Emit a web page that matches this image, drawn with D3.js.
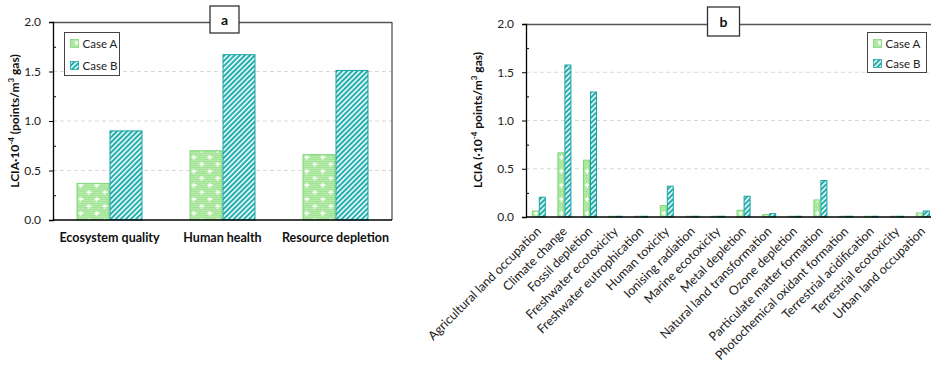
<!DOCTYPE html>
<html>
<head>
<meta charset="utf-8">
<script src="https://cdn.jsdelivr.net/npm/d3@7"></script>
<style>
  html, body { margin: 0; padding: 0; background: #fff; }
  svg { display: block; font-family: Lato, "Open Sans", sans-serif; }
</style>
</head>
<body>
<svg id="chart" width="931" height="372"></svg>
<script>
// Panel a: endpoint categories
const endpointCategories = ["Ecosystem quality", "Human health", "Resource depletion"];
const endpointCaseA = [0.37, 0.70, 0.66];
const endpointCaseB = [0.90, 1.67, 1.51];

// Panel b: midpoint categories
const midpointCategories = [
  "Agricultural land occupation", "Climate change", "Fossil depletion",
  "Freshwater ecotoxicity", "Freshwater eutrophication", "Human toxicity",
  "Ionising radiation", "Marine ecotoxicity", "Metal depletion",
  "Natural land transformation", "Ozone depletion", "Particulate matter formation",
  "Photochemical oxidant formation", "Terrestrial acidification",
  "Terrestrial ecotoxicity", "Urban land occupation"
];
const midpointCaseA = [0.062, 0.665, 0.589, 0.008, 0.008, 0.118, 0.008, 0.008, 0.070, 0.025, 0.008, 0.177, 0.008, 0.008, 0.008, 0.042];
const midpointCaseB = [0.205, 1.575, 1.295, 0.008, 0.008, 0.319, 0.008, 0.008, 0.215, 0.035, 0.008, 0.378, 0.008, 0.008, 0.008, 0.062];

const seriesNames = ["Case A", "Case B"];
const yTickValues = [0, 0.5, 1.0, 1.5, 2.0];
const yMinorValues = [0.25, 0.75, 1.25, 1.75];

const svg = d3.select("#chart");
const defs = svg.append("defs");

// Case A: light green with fine checker and white crosses
const patA = defs.append("pattern")
  .attr("id", "patA").attr("patternUnits", "userSpaceOnUse")
  .attr("width", 16).attr("height", 14);
patA.append("rect").attr("width", 16).attr("height", 14).attr("fill", "#a4e496");
for (let i = 0; i < 16; i += 2) {
  for (let j = 0; j < 14; j += 2) {
    patA.append("rect").attr("x", i + ((j / 2) % 2)).attr("y", j).attr("width", 1).attr("height", 1).attr("fill", "#c9f1c0");
  }
}
[[4, 3], [12, 10]].forEach(([cx, cy]) => {
  patA.append("rect").attr("x", cx - 2).attr("y", cy - 0.5).attr("width", 5).attr("height", 1.4).attr("fill", "#fff");
  patA.append("rect").attr("x", cx - 0.5).attr("y", cy - 2).attr("width", 1.4).attr("height", 5).attr("fill", "#fff");
});

// Case B: teal with white diagonal stripes
const patB = defs.append("pattern")
  .attr("id", "patB").attr("patternUnits", "userSpaceOnUse")
  .attr("width", 3.6).attr("height", 10)
  .attr("patternTransform", "rotate(45)");
patB.append("rect").attr("width", 3.6).attr("height", 10).attr("fill", "#1fadad");
patB.append("rect").attr("width", 1.6).attr("height", 10).attr("fill", "#f4fbfb");

const fills = { "Case A": "url(#patA)", "Case B": "url(#patB)" };
const strokes = { "Case A": "#7fd67a", "Case B": "#1aa3a3" };

function drawPanel(cfg) {
  const g = svg.append("g");
  const x = d3.scaleBand().domain(cfg.categories).range([cfg.left, cfg.right])
    .paddingInner(cfg.padInner).paddingOuter(cfg.padInner / 2);
  const xs = d3.scaleBand().domain(seriesNames).range([0, x.bandwidth()]);
  const y = d3.scaleLinear().domain([0, 2]).range([cfg.bottom, cfg.top]);

  // dashed gridlines
  g.append("g").selectAll("line").data([0.5, 1.0, 1.5]).join("line")
    .attr("x1", cfg.left).attr("x2", cfg.right)
    .attr("y1", d => y(d)).attr("y2", d => y(d))
    .attr("stroke", "#d9d9d9").attr("stroke-width", 1).attr("stroke-dasharray", "4,3");

  // frame: top and right in gray
  g.append("line").attr("x1", cfg.left).attr("x2", cfg.right)
    .attr("y1", cfg.top + 0.5).attr("y2", cfg.top + 0.5).attr("stroke", "#555").attr("stroke-width", 1.3);
  if (cfg.rightBorder) {
    g.append("line").attr("x1", cfg.right).attr("x2", cfg.right)
      .attr("y1", cfg.top).attr("y2", cfg.bottom).attr("stroke", "#555").attr("stroke-width", 1.3);
  }

  // bars
  const rows = cfg.categories.map((c, i) => ({ c, vals: [cfg.a[i], cfg.b[i]] }));
  const groups = g.append("g").selectAll("g").data(rows).join("g")
    .attr("transform", d => `translate(${x(d.c)},0)`);
  groups.selectAll("rect").data(d => d.vals.map((v, k) => ({ s: seriesNames[k], v }))).join("rect")
    .attr("x", d => xs(d.s) + 0.5)
    .attr("width", xs.bandwidth() - 1)
    .attr("y", d => y(d.v))
    .attr("height", d => Math.max(cfg.bottom - y(d.v), 0.8))
    .attr("fill", d => fills[d.s])
    .attr("stroke", d => strokes[d.s])
    .attr("stroke-width", 1);

  // y axis
  const yAxis = d3.axisLeft(y).tickValues(yTickValues).tickFormat(d3.format(".1f")).tickSize(4).tickPadding(8);
  const ya = g.append("g").attr("transform", `translate(${cfg.left},0)`).call(yAxis);
  ya.select(".domain").attr("stroke", "#000").attr("stroke-width", 1.3);
  ya.selectAll(".tick line").attr("stroke", "#000");
  ya.selectAll(".tick text").attr("font-family", "Lato, sans-serif").attr("font-size", 12).attr("fill", "#222");
  const yMinor = d3.axisRight(y).tickValues(yMinorValues).tickFormat("").tickSize(3);
  const ym = g.append("g").attr("transform", `translate(${cfg.left},0)`).call(yMinor);
  ym.select(".domain").remove();
  ym.selectAll(".tick line").attr("stroke", "#000");

  // x axis
  g.append("line").attr("x1", cfg.left).attr("x2", cfg.right)
    .attr("y1", cfg.bottom).attr("y2", cfg.bottom).attr("stroke", "#000").attr("stroke-width", 1.5);

  // category labels
  if (cfg.rotateLabels) {
    g.append("g").selectAll("text").data(cfg.categories).join("text")
      .attr("transform", d => `translate(${x(d) + x.bandwidth() / 2 - 3},${cfg.bottom + 9}) rotate(-45)`)
      .attr("text-anchor", "end").attr("dy", "0.7em")
      .attr("font-size", 12.5).attr("fill", "#222").text(d => d);
  } else {
    g.append("g").selectAll("text").data(cfg.categories).join("text")
      .attr("x", d => x(d) + x.bandwidth() / 2).attr("y", cfg.bottom + 22)
      .attr("text-anchor", "middle").attr("font-size", 12.5).attr("font-weight", "bold")
      .attr("fill", "#111").text(d => d);
  }

  // y title
  const yt = g.append("text")
    .attr("transform", `translate(${cfg.titleX},${cfg.titleY}) rotate(-90)`)
    .attr("text-anchor", "middle").attr("font-size", 12).attr("font-weight", "bold").attr("fill", "#111");
  cfg.titleParts.forEach(p => {
    const t = yt.append("tspan").text(p.t);
    if (p.sup) t.attr("baseline-shift", "super").attr("font-size", 8);
  });

  // panel tag box
  const tag = g.append("g").attr("transform", `translate(${cfg.tagX},${cfg.tagY})`);
  tag.append("rect").attr("x", -cfg.tagW / 2).attr("y", 0).attr("width", cfg.tagW).attr("height", cfg.tagH)
    .attr("fill", "#fff").attr("stroke", "#333").attr("stroke-width", 1.3);
  tag.append("text").attr("x", 0).attr("y", cfg.tagH / 2 + 5).attr("text-anchor", "middle")
    .attr("font-size", 14).attr("font-weight", "bold").attr("fill", "#111").text(cfg.tag);

  // legend
  const lg = g.append("g").attr("transform", `translate(${cfg.legX},${cfg.legY})`);
  lg.append("rect").attr("width", cfg.legW).attr("height", cfg.legH)
    .attr("fill", "#fff").attr("stroke", "#444").attr("stroke-width", 1);
  seriesNames.forEach((s, k) => {
    const yy = cfg.legRow0 + k * cfg.legStep;
    lg.append("rect").attr("x", 6).attr("y", yy - 4).attr("width", 8).attr("height", 8)
      .attr("fill", fills[s]).attr("stroke", strokes[s]).attr("stroke-width", 0.8);
    lg.append("text").attr("x", 18).attr("y", yy + 4).attr("font-size", 11.5).attr("fill", "#222").text(s);
  });
}

drawPanel({
  categories: endpointCategories, a: endpointCaseA, b: endpointCaseB,
  left: 53, right: 392, top: 22, bottom: 220, padInner: 0.416, rightBorder: true,
  rotateLabels: false,
  titleX: 19, titleY: 121,
  titleParts: [{ t: "LCIA·10" }, { t: "-4", sup: true }, { t: " (points/m" }, { t: "3", sup: true }, { t: " gas)" }],
  tag: "a", tagX: 224.5, tagY: 6, tagW: 29, tagH: 27,
  legX: 64.5, legY: 32.5, legW: 55, legH: 43, legRow0: 11, legStep: 22
});

drawPanel({
  categories: midpointCategories, a: midpointCaseA, b: midpointCaseB,
  left: 526, right: 935.6, top: 24, bottom: 217, padInner: 0.453, rightBorder: false,
  rotateLabels: true,
  titleX: 482, titleY: 120,
  titleParts: [{ t: "LCIA (·10" }, { t: "-4", sup: true }, { t: " points/m" }, { t: "3", sup: true }, { t: " gas)" }],
  tag: "b", tagX: 723.5, tagY: 7, tagW: 32, tagH: 29,
  legX: 867.5, legY: 32.5, legW: 59, legH: 40, legRow0: 11, legStep: 20
});
</script>
</body>
</html>
